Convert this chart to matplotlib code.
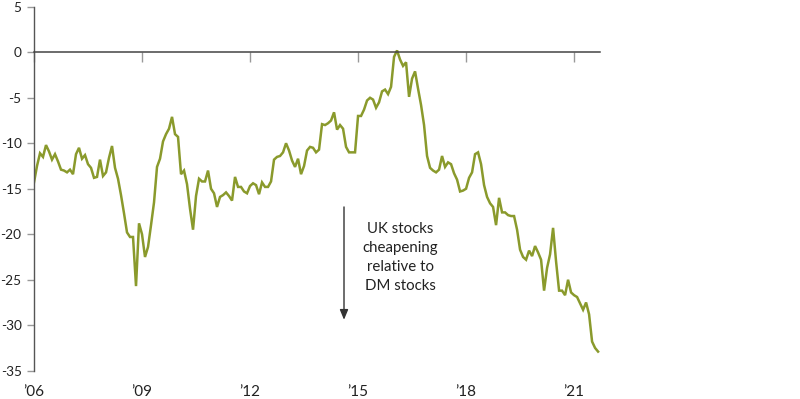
import matplotlib
matplotlib.use("Agg")
import matplotlib.pyplot as plt
import numpy as np

plt.rcParams['font.family'] = ['Lato', 'DejaVu Sans']
plt.rcParams['axes.unicode_minus'] = False

start_year = 2006
values = [
    -14.3, -12.5, -11.1, -11.5, -10.2, -10.9, -11.8, -11.2, -12.0, -12.9, -13.0, -13.2,
    -12.9, -13.4, -11.2, -10.5, -11.7, -11.3, -12.3, -12.7, -13.8, -13.7, -11.8, -13.6,
    -13.2, -11.6, -10.3, -12.7, -13.9, -15.7, -17.7, -19.8, -20.3, -20.3, -25.7, -18.8,
    -20.0, -22.5, -21.4, -19.0, -16.5, -12.6, -11.7, -9.8, -9.0, -8.4, -7.1, -9.0,
    -9.3, -13.4, -13.0, -14.5, -17.2, -19.5, -15.8, -13.9, -14.2, -14.2, -13.0, -15.0,
    -15.5, -17.0, -15.9, -15.7, -15.4, -15.8, -16.3, -13.7, -14.8, -14.8, -15.3, -15.5,
    -14.7, -14.4, -14.6, -15.6, -14.3, -14.8, -14.8, -14.2, -11.8, -11.5, -11.4, -11.0,
    -10.0, -10.8, -11.9, -12.6, -11.7, -13.4, -12.5, -10.8, -10.4, -10.5, -11.0, -10.7,
    -7.9, -8.0, -7.8, -7.5, -6.6, -8.5, -8.0, -8.4, -10.4, -11.0, -11.0, -11.0,
    -7.0, -7.0, -6.3, -5.3, -5.0, -5.2, -6.1, -5.5, -4.3, -4.1, -4.6, -3.8,
    -0.5, 0.2, -0.8, -1.5, -1.1, -4.9, -2.9, -2.1, -4.0, -5.8, -8.0, -11.4,
    -12.7, -13.0, -13.2, -12.9, -11.4, -12.6, -12.1, -12.3, -13.3, -14.0, -15.3, -15.2,
    -15.0, -13.8, -13.2, -11.2, -11.0, -12.3, -14.6, -15.9, -16.6, -17.0, -19.0, -16.0,
    -17.6, -17.6, -17.9, -18.0, -18.0, -19.5, -21.7, -22.5, -22.8, -21.8, -22.4, -21.3,
    -22.0, -22.8, -26.2, -23.7, -22.2, -19.3, -23.0, -26.2, -26.2, -26.7, -25.0, -26.4,
    -26.7, -26.9, -27.6, -28.3, -27.5, -28.8, -31.8, -32.5, -32.9,
]
tick_years = [2006, 2009, 2012, 2015, 2018, 2021]
tick_labels = ["\u201906", "\u201909", "\u201912", "\u201915", "\u201918", "\u201921"]
y_ticks = [5, 0, -5, -10, -15, -20, -25, -30, -35]
note_text = "UK stocks\ncheapening\nrelative to\nDM stocks"

x = start_year + np.arange(len(values)) / 12.0

fig = plt.figure(figsize=(8, 3.99), dpi=100)
ax = fig.add_axes([0.0425, 0.0709, 0.7075, 0.9121])

line_color = '#8a9a2c'
ax.plot(x, values, color=line_color, lw=1.8, solid_joinstyle='miter')

ax.set_xlim(2006, 2021.72)
ax.set_ylim(-35, 5)

for s in ['top', 'right']:
    ax.spines[s].set_visible(False)
ax.spines['bottom'].set_position(('data', 0))
ax.spines['bottom'].set_color('#444444')
ax.spines['bottom'].set_linewidth(1.1)
ax.spines['left'].set_color('#555555')
ax.spines['left'].set_linewidth(1.0)

ax.set_yticks(y_ticks)
ax.set_yticklabels([str(v) for v in y_ticks])
ax.tick_params(axis='y', direction='out', length=5, width=1, color='#999999',
               labelsize=9.8, labelcolor='#222222', pad=4)
ax.set_xticks(tick_years)
ax.tick_params(axis='x', direction='out', length=7, width=1, color='#999999',
               labelbottom=False)

sec = ax.secondary_xaxis('bottom')
sec.set_xticks(tick_years)
sec.set_xticklabels(tick_labels)
for s in sec.spines.values():
    s.set_visible(False)
sec.tick_params(axis='x', length=0, labelsize=11, labelcolor='#222222', pad=10)

ax.annotate('', xy=(2014.61, -29.4), xytext=(2014.61, -17.0),
            arrowprops=dict(arrowstyle='-|>,head_length=0.6,head_width=0.25',
                            color='#333333', lw=1.0, shrinkA=0, shrinkB=0))
ax.text(2016.17, -22.6, note_text, ha='center', va='center', fontsize=10.8,
        color='#222222', linespacing=1.45)

fig.savefig('out.png', dpi=100)
